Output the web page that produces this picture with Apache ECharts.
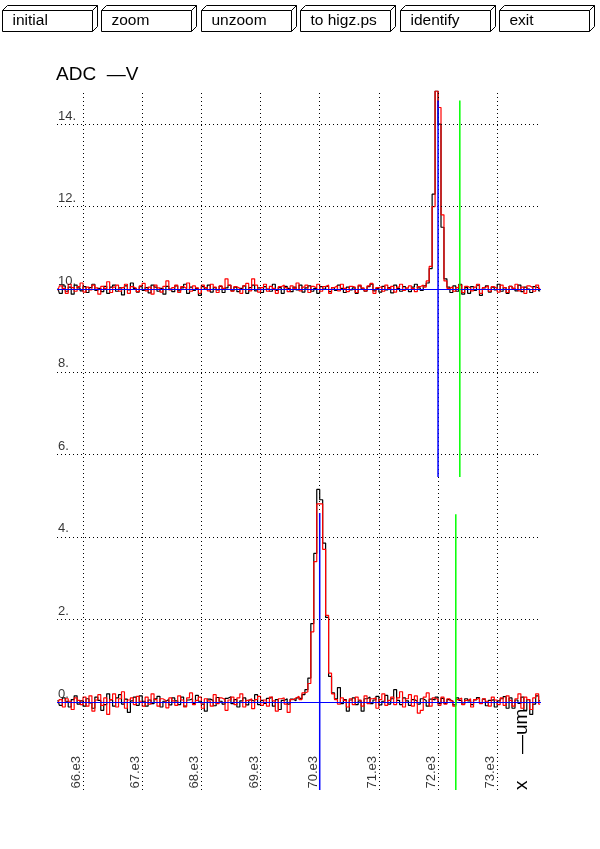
<!DOCTYPE html>
<html>
<head>
<meta charset="utf-8">
<script src="https://cdn.jsdelivr.net/npm/echarts@6/dist/echarts.min.js"></script>
<style>
html,body{margin:0;padding:0;background:#fff;}
#chart{width:600px;height:849px;}
</style>
</head>
<body>
<div id="chart"></div>
<script>
// ---- axis ranges and ticks ----
const xMin = 65560, xMax = 73740;
const yMin = -2.13, yMax = 14.8;
const xTicks = [66000, 67000, 68000, 69000, 70000, 71000, 72000, 73000];
const yTicks = [0, 2, 4, 6, 8, 10, 12, 14];
const yTitle = 'ADC  \u2014V';
const xTitle = 'x     \u2014um';
const buttonLabels = ['initial', 'zoom', 'unzoom', 'to higz.ps', 'identify', 'exit'];

// ---- histogram binning (x of bin i centre = binStart + binWidth*(i+0.5)) ----
const binStart = 65550, binWidth = 50;

// lower channel, black
const lowBlack = [
0.05,-0.08,0.1,0.02,-0.12,0.06,0.15,-0.05,0.03,-0.1,
0.08,-0.02,-0.15,0.12,0.04,-0.2,-0.06,0.2,0.05,-0.1,
0.1,0.18,-0.05,0.07,-0.25,0.03,0.12,-0.08,0.15,0.02,
-0.1,0.05,-0.04,0.08,0.14,-0.12,0.02,0.06,-0.07,0.1,
0.03,-0.06,0.12,-0.1,0.05,0.08,-0.03,0.16,0.02,-0.05,
-0.22,0.07,0.04,-0.09,0.11,0.02,-0.05,0.09,0.13,-0.04,
0.06,-0.12,0.03,0.1,-0.07,0.05,0.02,0.18,-0.06,0.04,
-0.03,0.09,0.12,-0.1,0.06,-0.18,0.04,0.08,-0.05,0.07,
0.03,0.1,0.08,0.18,0.3,0.58,1.9,3.6,5.15,4.9,
3.85,2.05,0.62,0.22,0.08,0.35,-0.04,0.06,-0.22,0.05,
0.1,-0.06,0.03,-0.22,0.08,0.12,-0.04,0.05,0.14,-0.07,
0.02,0.16,-0.05,0.08,0.3,0.04,-0.06,0.1,0.03,-0.08,
0.06,0.02,-0.05,0.08,0.04,-0.1,0.07,0.05,0.12,-0.04,
0.09,-0.03,0.06,0.02,-0.07,0.1,0.04,-0.05,0.08,0.03,
-0.06,0.05,0.11,-0.02,0.07,-0.09,0.04,0.06,-0.12,0.03,
0.08,0.13,-0.15,0.1,-0.15,0.05,-0.03,0.12,-0.2,0.06,
-0.3,-0.05,0.15,0.03
];
// lower channel, red
const lowRed = [
-0.03,0.06,-0.12,0.08,0.02,-0.18,0.1,0.04,-0.06,0.12,
-0.1,0.15,-0.22,0.05,0.18,-0.08,0.1,-0.3,0.06,0.2,
-0.12,0.08,0.25,-0.15,0.05,0.1,-0.06,0.14,0.02,-0.1,
0.12,-0.05,0.2,0.06,-0.1,0.08,0.04,-0.14,0.1,0.03,
-0.08,0.15,0.05,-0.12,0.1,0.22,-0.06,0.04,0.12,-0.15,
0.08,0.03,-0.1,0.18,-0.04,0.1,0.06,-0.2,0.05,0.12,
-0.06,0.1,0.2,-0.12,0.04,0.08,-0.16,0.06,0.14,-0.08,
0.05,-0.1,0.12,0.03,-0.22,0.08,0.1,-0.05,-0.25,0.06,
0.1,0.14,0.06,0.22,0.25,0.45,1.7,3.4,4.8,4.8,
3.7,2.1,0.7,0.2,0.06,-0.05,0.1,0.04,-0.12,0.08,
-0.06,0.12,0.05,-0.1,0.15,-0.04,0.08,0.1,-0.15,0.06,
0.2,-0.08,0.04,0.12,-0.06,0.1,0.25,-0.12,0.08,0.18,
-0.1,0.15,-0.27,-0.2,0.12,0.22,-0.1,0.1,0.06,-0.08,
0.12,-0.05,0.08,0.03,-0.1,0.06,0.1,-0.06,0.04,0.08,
-0.12,0.06,0.1,-0.04,0.08,0.02,-0.1,0.12,0.05,-0.06,
0.1,-0.08,0.15,0.04,-0.1,0.08,0.2,-0.15,0.12,0.06,
-0.18,0.1,0.2,-0.05
];
// upper channel, black
const highBlack = [
10.02,9.9,10.08,9.95,10.05,9.88,10.1,10.03,9.96,10.06,
9.92,10.04,10.12,9.97,10.02,9.94,10.07,9.9,10.05,10.1,
9.95,10.03,9.86,10.08,9.98,10.15,10.02,9.93,10.06,9.97,
10.04,9.91,10.1,10.05,9.95,10.02,9.88,10.07,10.0,9.94,
10.08,9.96,10.03,10.12,9.9,10.05,9.97,10.02,9.85,10.06,
10.0,10.1,9.93,10.04,9.98,10.07,9.92,10.03,10.09,9.96,
10.05,9.94,10.02,10.08,9.9,10.04,10.1,9.96,10.03,9.92,
10.06,10.0,9.95,10.12,9.97,10.04,9.9,10.07,10.02,9.94,
10.05,9.98,10.1,9.93,10.03,10.08,9.95,10.02,9.9,10.06,
10.0,10.07,9.94,10.04,9.97,10.1,10.02,9.92,10.05,9.98,
10.03,9.9,10.08,10.01,9.95,10.06,10.12,9.96,10.02,9.93,
10.07,9.98,10.04,9.91,10.1,10.02,9.95,10.06,10.0,9.94,
10.05,10.12,10.03,9.97,10.08,10.15,10.5,12.3,14.8,14.0,
11.5,10.25,10.05,9.92,10.08,9.95,10.12,9.88,10.04,9.9,
10.06,9.97,10.1,9.85,10.03,10.08,9.93,10.05,9.98,10.12,
9.95,10.04,9.9,10.07,10.02,9.96,10.1,9.94,10.05,10.0,
9.92,10.06,10.03,9.96
];
// upper channel, red
const highRed = [
9.97,10.08,10.02,9.9,10.12,10.04,9.95,10.06,10.15,9.93,
10.05,9.98,10.1,10.03,9.88,10.07,10.02,10.18,9.92,10.05,
10.1,9.95,10.04,10.12,9.9,10.06,10.02,9.94,10.08,10.14,
9.96,10.05,9.88,10.1,10.03,9.93,10.07,10.2,9.98,10.04,
10.1,9.92,10.06,10.02,10.15,9.95,10.08,10.03,9.9,10.1,
10.04,9.96,10.12,10.05,9.92,10.08,10.02,10.25,10.1,9.95,
10.06,10.02,9.9,10.08,10.14,9.96,10.25,10.1,9.93,10.04,
10.12,9.95,10.07,10.02,9.9,10.06,10.1,10.04,9.94,10.08,
10.02,10.15,9.96,10.05,10.1,9.92,10.07,10.03,10.12,9.95,
10.06,10.1,9.9,10.04,10.08,9.96,10.12,10.02,9.94,10.07,
10.05,9.92,10.1,10.03,9.96,10.08,10.14,9.9,10.04,10.06,
9.95,10.1,10.02,10.07,9.93,10.05,10.12,9.97,10.03,10.08,
10.02,9.94,10.06,10.1,10.05,10.2,10.55,12.0,14.8,14.4,
11.8,10.2,10.02,10.06,9.95,10.04,10.1,9.92,10.07,10.03,
9.96,10.05,10.12,9.9,10.04,10.08,9.95,10.06,10.02,9.93,
10.1,10.04,9.92,10.07,10.02,10.12,9.96,10.05,9.9,10.08,
10.04,9.95,10.1,10.02
];

// fitted baselines (blue horizontal) and peak markers
const baselines = [0, 10];
const peakX = [70000, 72000];          // blue vertical markers
const peakTop = [4.58, 14.57];
const peakBottom = [-2.13, 5.45];
const gateX = [72300, 72368];          // green vertical markers
const gateTop = [4.55, 14.57];
const gateBottom = [-2.13, 5.45];

// ---------------------------------------------------------------
const toSeries = arr => arr.map((v, i) => [binStart + binWidth * (i + 0.5), v]);

function traceSeries(name, arr, color, z) {
  return {
    name, type: 'line', step: 'middle', data: toSeries(arr),
    showSymbol: false, symbol: 'none', silent: true, z,
    lineStyle: { color, width: 1.2 }
  };
}

function segSeries(xs, tops, bottoms, color, z) {
  return xs.map((x, i) => ({
    type: 'line', silent: true, symbol: 'none', showSymbol: false, z,
    data: [[x, tops[i]], [x, bottoms[i]]],
    lineStyle: { color, width: 1.5 }
  }));
}

const txtFont = 'Liberation Sans, Arial, sans-serif';

const graphics = [];
buttonLabels.forEach((lab, i) => {
  const x = Math.round(2 + i * 99.4) + 0.5;
  graphics.push({
    type: 'polygon', silent: true,
    shape: { points: [[x, 10.5], [x + 5, 5.5], [x + 95, 5.5], [x + 90, 10.5]] },
    style: { fill: '#fff', stroke: '#000', lineWidth: 1 }
  });
  graphics.push({
    type: 'polygon', silent: true,
    shape: { points: [[x + 90, 10.5], [x + 95, 5.5], [x + 95, 26.5], [x + 90, 31.5]] },
    style: { fill: '#fff', stroke: '#000', lineWidth: 1 }
  });
  graphics.push({
    type: 'rect', silent: true,
    shape: { x: x, y: 10.5, width: 90, height: 21 },
    style: { fill: '#fff', stroke: '#000', lineWidth: 1 }
  });
  graphics.push({
    type: 'text', silent: true, x: x + 10, y: 21,
    style: { text: lab, font: '15.5px ' + txtFont, fill: '#000', textAlign: 'left', textVerticalAlign: 'middle' }
  });
});
graphics.push({
  type: 'text', silent: true, x: 56, y: 75,
  style: { text: yTitle, font: '19px ' + txtFont, fill: '#000', textAlign: 'left', textVerticalAlign: 'middle' }
});
graphics.push({
  type: 'text', silent: true, x: 522, y: 790, rotation: Math.PI / 2,
  style: { text: xTitle, font: '19px ' + txtFont, fill: '#000', textAlign: 'left', textVerticalAlign: 'middle' }
});

const option = {
  animation: false,
  backgroundColor: '#fff',
  grid: { left: 57, right: 59, top: 91, bottom: 59, containLabel: false },
  xAxis: { type: 'value', min: xMin, max: xMax, show: false },
  yAxis: { type: 'value', min: yMin, max: yMax, show: false },
  graphic: graphics,
  series: [
    {
      type: 'line', data: [], silent: true, z: 1,
      markLine: {
        silent: true, symbol: ['none', 'none'], label: { show: false }, animation: false,
        lineStyle: { color: '#000', type: [1, 3], width: 1 },
        emphasis: { disabled: true },
        data: [
          ...xTicks.map(v => ({ xAxis: v })),
          ...yTicks.filter(v => v !== 0).map(v => ({ yAxis: v }))
        ]
      }
    },
    traceSeries('lowBlack', lowBlack, '#000000', 2),
    traceSeries('highBlack', highBlack, '#000000', 2),
    traceSeries('lowRed', lowRed, '#ff0000', 3),
    traceSeries('highRed', highRed, '#ff0000', 3),
    {
      type: 'line', data: [], silent: true, z: 4,
      markLine: {
        silent: true, symbol: ['none', 'none'], label: { show: false }, animation: false,
        lineStyle: { color: '#0000ff', type: 'solid', width: 1 },
        emphasis: { disabled: true },
        data: baselines.map(v => ({ yAxis: v }))
      }
    },
    ...segSeries(peakX, peakTop, peakBottom, '#0000ff', 5),
    ...segSeries(gateX, gateTop, gateBottom, '#00ff00', 5),
    {
      type: 'scatter', silent: true, z: 6, symbolSize: 1,
      itemStyle: { color: 'rgba(0,0,0,0)' },
      data: yTicks.map(v => [xMin, v]),
      label: {
        show: true, position: [1.5, -1], align: 'left', verticalAlign: 'bottom',
        color: '#000', fontSize: 13, fontFamily: txtFont,
        formatter: p => p.value[1] + '.'
      }
    },
    {
      type: 'scatter', silent: true, z: 6, symbolSize: 1,
      itemStyle: { color: 'rgba(0,0,0,0)' },
      data: xTicks.map(v => [v, yMin]),
      label: {
        show: true, position: [-6, -1], rotate: 90, align: 'left', verticalAlign: 'middle',
        color: '#000', fontSize: 13, fontFamily: txtFont,
        formatter: p => (p.value[0] / 1000) + '.e3'
      }
    }
  ]
};

const chart = echarts.init(document.getElementById('chart'), null, { renderer: 'canvas' });
chart.setOption(option);
</script>
</body>
</html>
